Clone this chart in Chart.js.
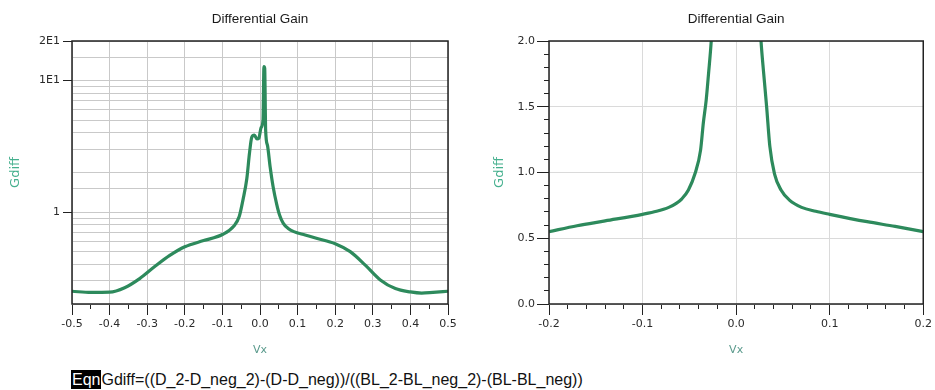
<!DOCTYPE html>
<html>
<head>
<meta charset="utf-8">
<script src="https://cdn.jsdelivr.net/npm/chart.js@4.4.1/dist/chart.umd.min.js"></script>
<style>
  html, body { margin: 0; padding: 0; background: #ffffff; }
  body { width: 935px; height: 390px; position: relative; overflow: hidden; }
  #leftBox { position: absolute; left: 0; top: 0; width: 470px; height: 360px; }
  #rightBox { position: absolute; left: 470px; top: 0; width: 465px; height: 360px; }
  #eqn { position: absolute; left: 71px; top: 370px; height: 19px; line-height: 19px;
         font-family: "Liberation Sans", Arial, sans-serif; font-size: 16px; color: #111; white-space: nowrap; }
  #eqn .tag { background: #000; color: #fff; padding: 0 1px; display: inline-block; height: 19px; }
</style>
</head>
<body>
<div id="leftBox"><canvas id="leftChart" width="470" height="360"></canvas></div>
<div id="rightBox"><canvas id="rightChart" width="465" height="360"></canvas></div>
<div id="eqn"><span class="tag">Eqn</span>Gdiff=((D_2-D_neg_2)-(D-D_neg))/((BL_2-BL_neg_2)-(BL-BL_neg))</div>
<script>
// ---------------- data ----------------
const chartTitle = "Differential Gain";
const xAxisLabel = "Vx";
const yAxisLabel = "Gdiff";

// Left chart: full sweep, log y axis
const leftVx = [-0.5, -0.45, -0.4, -0.36, -0.32, -0.28, -0.24, -0.2, -0.15, -0.1, -0.07, -0.055, -0.045,
  -0.035, -0.028, -0.022, -0.015, -0.008, -0.003, 0.003, 0.008, 0.0105, 0.0125, 0.015, 0.02, 0.027,
  0.035, 0.044, 0.052, 0.062, 0.075, 0.09, 0.12, 0.15, 0.2, 0.24, 0.28, 0.32, 0.36, 0.4, 0.43, 0.46, 0.5];
const leftGdiff = [0.25, 0.245, 0.246, 0.266, 0.312, 0.385, 0.468, 0.545, 0.607, 0.675, 0.78, 0.93, 1.25,
  1.8, 2.8, 3.7, 3.85, 3.6, 3.65, 4.4, 5.0, 12.8, 12.4, 4.2, 3.2, 2.2,
  1.55, 1.16, 0.95, 0.82, 0.75, 0.71, 0.67, 0.632, 0.575, 0.5, 0.395, 0.305, 0.262, 0.247, 0.242, 0.245, 0.25];
const leftXTickLabels = ["-0.5", "-0.4", "-0.3", "-0.2", "-0.1", "0.0", "0.1", "0.2", "0.3", "0.4", "0.5"];
const leftYTickLabels = { 1: "1", 10: "1E1", 20: "2E1" };

// Right chart: zoomed sweep, linear y axis
const rightVx = [-0.2, -0.17, -0.14, -0.1, -0.085, -0.072, -0.064, -0.058, -0.051, -0.044, -0.038, -0.035,
  -0.032, -0.0295, -0.0266, -0.022, -0.015, -0.008, 0, 0.008, 0.015, 0.022, 0.0266, 0.0295, 0.0326,
  0.036, 0.041, 0.048, 0.057, 0.07, 0.085, 0.1, 0.14, 0.17, 0.2];
const rightGdiff = [0.55, 0.595, 0.632, 0.682, 0.705, 0.735, 0.765, 0.80, 0.867, 0.99, 1.17, 1.38,
  1.55, 1.75, 2.0, 2.6, 3.8, 3.6, 3.8, 4.5, 3.9, 2.6, 2.0, 1.75, 1.5,
  1.2, 0.99, 0.867, 0.79, 0.735, 0.705, 0.682, 0.626, 0.59, 0.55];
const rightXTickLabels = ["-0.2", "-0.1", "0.0", "0.1", "0.2"];
const rightYTickLabels = ["0.0", "0.5", "1.0", "1.5", "2.0"];

// ---------------- helpers ----------------
const lineColor = "#2d8a5c";
const tickFont = { family: "'DejaVu Sans', sans-serif", size: 11 };
const tickColor = "#2a2a2a";
const titleFont = { family: "'Liberation Sans', Arial, sans-serif", size: 13.5, weight: "normal" };
const axisTitleColorY = "#45b08e";
const axisTitleColorX = "#5a9a8c";

function isMult(v, step) {
  const r = v / step;
  return Math.abs(r - Math.round(r)) < 1e-6;
}
function labelFor(v, list) {
  const r = Math.round(v * 10) / 10;
  const s = (Math.abs(r) < 1e-9 ? 0 : r).toFixed(1);
  return list.includes(s) ? s : "";
}
function pts(xs, ys) { return xs.map((x, i) => ({ x: x, y: ys[i] })); }

const frame = {
  id: "frame",
  afterDatasetsDraw(chart) {
    const { ctx, chartArea: a } = chart;
    ctx.save();
    ctx.strokeStyle = "#222";
    ctx.lineWidth = 1.5;
    ctx.strokeRect(a.left, a.top, a.right - a.left, a.bottom - a.top);
    ctx.restore();
  }
};

const common = {
  responsive: false,
  animation: false,
  devicePixelRatio: 1,
  events: [],
  plugins: {
    legend: { display: false },
    tooltip: { enabled: false },
    title: {
      display: true, text: chartTitle, fullSize: false, color: "#1a1a1a",
      font: titleFont, padding: { top: 11, bottom: 13.8 }
    }
  }
};

// ---------------- left chart ----------------
new Chart(document.getElementById("leftChart"), {
  type: "line",
  data: {
    datasets: [{
      data: pts(leftVx, leftGdiff),
      borderColor: lineColor, borderWidth: 3.2, pointRadius: 0,
      cubicInterpolationMode: "monotone", clip: 0
    }]
  },
  options: Object.assign({}, common, {
    layout: { padding: { left: 0, right: 22, top: 0, bottom: 0 } },
    scales: {
      x: {
        type: "linear", min: -0.5, max: 0.5,
        border: { display: false },
        ticks: {
          stepSize: 0.05, autoSkip: false, maxRotation: 0, padding: 3,
          font: tickFont, color: tickColor,
          callback: (v) => isMult(v, 0.1) ? labelFor(v, leftXTickLabels) : ""
        },
        grid: {
          color: (c) => (c.tick && isMult(c.tick.value, 0.1)) ? "#c9c9c9" : "rgba(0,0,0,0)",
          tickColor: "#222", tickLength: 11,
          tickBorderDash: (c) => (c.tick && isMult(c.tick.value, 0.1)) ? [] : [5, 20]
        },
        title: { display: true, text: xAxisLabel, color: axisTitleColorX,
          font: { family: "'DejaVu Sans', sans-serif", size: 11 }, padding: { top: 0, bottom: 3.4 } },
        afterFit: (s) => { s.height = 56; }
      },
      y: {
        type: "logarithmic", min: 0.2, max: 20,
        border: { display: false },
        ticks: {
          autoSkip: false, padding: 3, font: tickFont, color: tickColor,
          callback: (v) => {
            for (const k of Object.keys(leftYTickLabels)) {
              if (Math.abs(v - Number(k)) < 1e-6 * Number(k)) return leftYTickLabels[k];
            }
            return "";
          }
        },
        grid: {
          color: "#c9c9c9",
          tickLength: 9,
          tickColor: (c) => {
            if (!c.tick) return "rgba(0,0,0,0)";
            const v = c.tick.value;
            return (Math.abs(v - 1) < 1e-6 || Math.abs(v - 10) < 1e-5 || Math.abs(v - 20) < 1e-5) ? "#222" : "rgba(0,0,0,0)";
          }
        },
        title: { display: true, text: yAxisLabel, color: axisTitleColorY,
          font: { family: "'DejaVu Sans', sans-serif", size: 13 }, padding: { top: 8, bottom: 0 } },
        afterFit: (s) => { s.width = 72; }
      }
    }
  }),
  plugins: [frame]
});

// ---------------- right chart ----------------
new Chart(document.getElementById("rightChart"), {
  type: "line",
  data: {
    datasets: [{
      data: pts(rightVx, rightGdiff),
      borderColor: lineColor, borderWidth: 3.2, pointRadius: 0,
      cubicInterpolationMode: "monotone", clip: 0
    }]
  },
  options: Object.assign({}, common, {
    layout: { padding: { left: 0, right: 9, top: 0, bottom: 0 } },
    scales: {
      x: {
        type: "linear", min: -0.2, max: 0.2,
        border: { display: false },
        ticks: {
          stepSize: 0.02, autoSkip: false, maxRotation: 0, padding: 3,
          font: tickFont, color: tickColor,
          callback: (v) => isMult(v, 0.1) ? labelFor(v, rightXTickLabels) : ""
        },
        grid: {
          color: (c) => (c.tick && isMult(c.tick.value, 0.1)) ? "#dadada" : "rgba(0,0,0,0)",
          tickColor: "#222", tickLength: 11,
          tickBorderDash: (c) => (c.tick && isMult(c.tick.value, 0.1)) ? [] : [5, 20]
        },
        title: { display: true, text: xAxisLabel, color: axisTitleColorX,
          font: { family: "'DejaVu Sans', sans-serif", size: 11 }, padding: { top: 0, bottom: 3.4 } },
        afterFit: (s) => { s.height = 56; }
      },
      y: {
        type: "linear", min: 0, max: 2,
        border: { display: false },
        ticks: {
          stepSize: 0.1, autoSkip: false, padding: 2, font: tickFont, color: tickColor,
          callback: (v) => isMult(v, 0.5) ? labelFor(v, rightYTickLabels) : ""
        },
        grid: {
          color: (c) => (c.tick && isMult(c.tick.value, 0.5)) ? "#dadada" : "rgba(0,0,0,0)",
          tickColor: "#222", tickLength: 12,
          tickBorderDash: (c) => (c.tick && isMult(c.tick.value, 0.5)) ? [] : [5, 7],
          tickBorderDashOffset: (c) => (c.tick && isMult(c.tick.value, 0.5)) ? 0 : 5
        },
        title: { display: true, text: yAxisLabel, color: axisTitleColorY,
          font: { family: "'DejaVu Sans', sans-serif", size: 13 }, padding: { top: 22, bottom: 0 } },
        afterFit: (s) => { s.width = 79; }
      }
    }
  }),
  plugins: [frame]
});
</script>
</body>
</html>
